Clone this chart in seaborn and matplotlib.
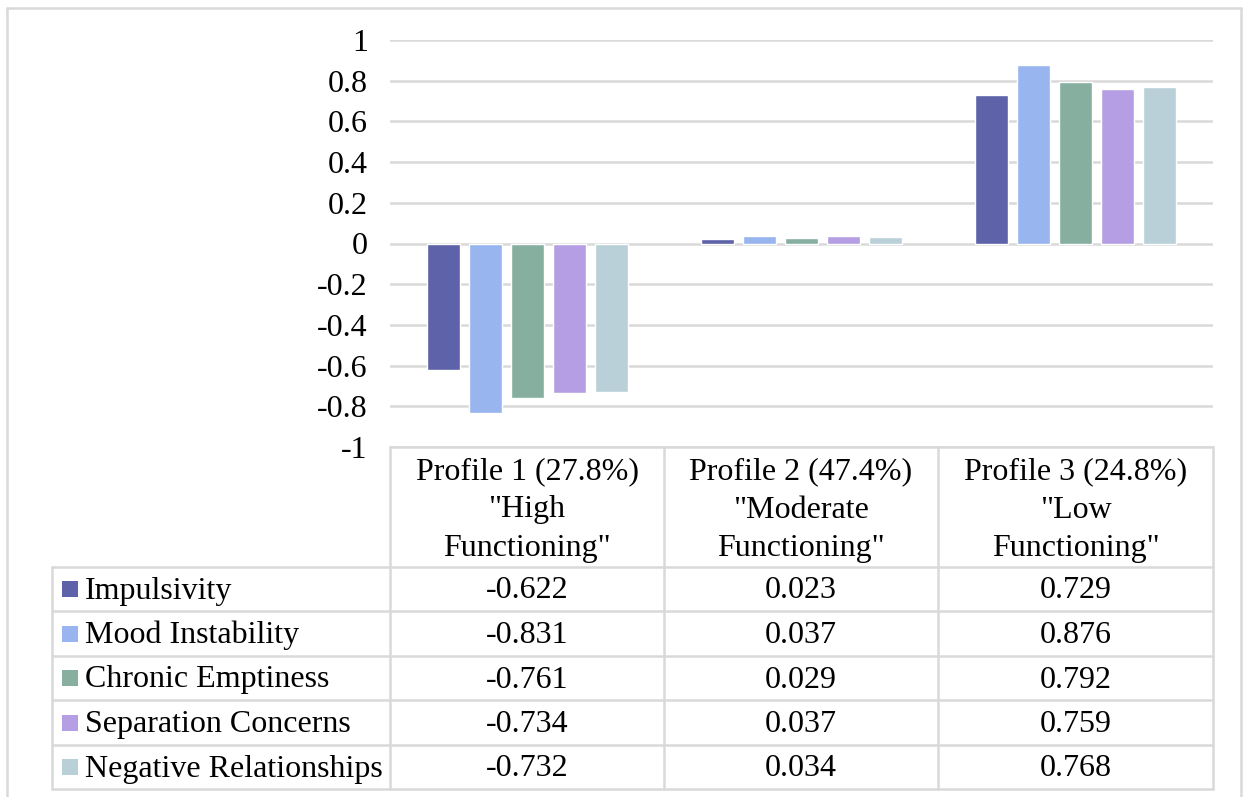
import matplotlib
matplotlib.use("Agg")
import matplotlib.pyplot as plt
from matplotlib.lines import Line2D
from matplotlib.patches import Rectangle
import seaborn as sns
import pandas as pd

# Latent profile means per indicator
profiles = ['Profile 1 (27.8%)\n"High\nFunctioning"',
            'Profile 2 (47.4%)\n"Moderate\nFunctioning"',
            'Profile 3 (24.8%)\n"Low\nFunctioning"']
indicators = ["Impulsivity", "Mood Instability", "Chronic Emptiness",
              "Separation Concerns", "Negative Relationships"]
impulsivity = [-0.622, 0.023, 0.729]
mood_instability = [-0.831, 0.037, 0.876]
chronic_emptiness = [-0.761, 0.029, 0.792]
separation_concerns = [-0.734, 0.037, 0.759]
negative_relationships = [-0.732, 0.034, 0.768]
yticks = [1, 0.8, 0.6, 0.4, 0.2, 0, -0.2, -0.4, -0.6, -0.8, -1]
colors = ["#5D62A9", "#98B5F0", "#86AFA0", "#B59EE3", "#B9D0D8"]

series = [impulsivity, mood_instability, chronic_emptiness,
          separation_concerns, negative_relationships]
df = pd.DataFrame([
    {"profile": p, "indicator": ind, "value": vals[i]}
    for ind, vals in zip(indicators, series)
    for i, p in enumerate(profiles)
])

sns.set_theme(style="white")
plt.rcParams["font.family"] = ["Liberation Serif", "DejaVu Serif"]
plt.rcParams["text.color"] = "black"
plt.rcParams["ytick.color"] = "black"

W, H = 1244, 797
fig = plt.figure(figsize=(W / 100, H / 100), dpi=100)

# pixel layout
plot_l, plot_r = 390, 1213
plot_t, plot_b = 40, 447
grid_c = "#D9D9D9"
fs = 23

ax = fig.add_axes([plot_l / W, 1 - plot_b / H, (plot_r - plot_l) / W, (plot_b - plot_t) / H])
sns.barplot(data=df, x="profile", y="value", hue="indicator", order=profiles,
            hue_order=indicators, palette=colors, width=0.766, gap=0.21,
            saturation=1, legend=False, ax=ax, errorbar=None)
ax.set_ylim(-1, 1)
ax.set_xlim(-0.5, 2.5)
ax.set_yticks(yticks)
ax.set_yticklabels([f"{t:g}" for t in yticks], fontsize=fs, color="black")
ax.set_xticks([])
ax.set_xlabel("")
ax.set_ylabel("")
ax.tick_params(axis="y", length=0, pad=16)
ax.yaxis.grid(True, color=grid_c, linewidth=1.8)
ax.set_axisbelow(True)
for s in ax.spines.values():
    s.set_visible(False)

# overlay axes in pixel coordinates for the data table and frame
ov = fig.add_axes([0, 0, 1, 1], facecolor="none")
ov.set_xlim(0, W)
ov.set_ylim(H, 0)
ov.axis("off")

def hline(y, x0, x1):
    ov.add_line(Line2D([x0, x1], [y, y], color=grid_c, lw=1.8))

def vline(x, y0, y1):
    ov.add_line(Line2D([x, x], [y0, y1], color=grid_c, lw=1.8))

# chart frame
hline(8, 7, 1241)
vline(7, 8, H)
vline(1241, 8, H)

# table grid
col_x = [390, 664, 938, 1213]
row_y = [567, 611, 656, 700, 745, 789]
tbl_l = 52
hline(plot_b, col_x[0], col_x[-1])
for y in row_y:
    hline(y, tbl_l, col_x[-1])
vline(tbl_l, row_y[0], row_y[-1])
for x in col_x:
    vline(x, plot_b, row_y[-1])

# header cells
for j, p in enumerate(profiles):
    cx = (col_x[j] + col_x[j + 1]) / 2
    ov.text(cx, (plot_b + row_y[0]) / 2 + 3, p, ha="center", va="center",
            fontsize=fs, linespacing=1.42, color="black")

# data rows with legend keys
for i, (ind, vals) in enumerate(zip(indicators, series)):
    cy = (row_y[i] + row_y[i + 1]) / 2
    ov.add_patch(Rectangle((62, cy - 8), 16, 16, color=colors[i], lw=0))
    ov.text(85, cy + 2, ind, ha="left", va="center", fontsize=fs, color="black")
    for j, v in enumerate(vals):
        cx = (col_x[j] + col_x[j + 1]) / 2
        ov.text(cx, cy + 2, f"{v:.3f}", ha="center", va="center", fontsize=fs,
                color="black")

fig.savefig("out.png", dpi=100, facecolor="white")
